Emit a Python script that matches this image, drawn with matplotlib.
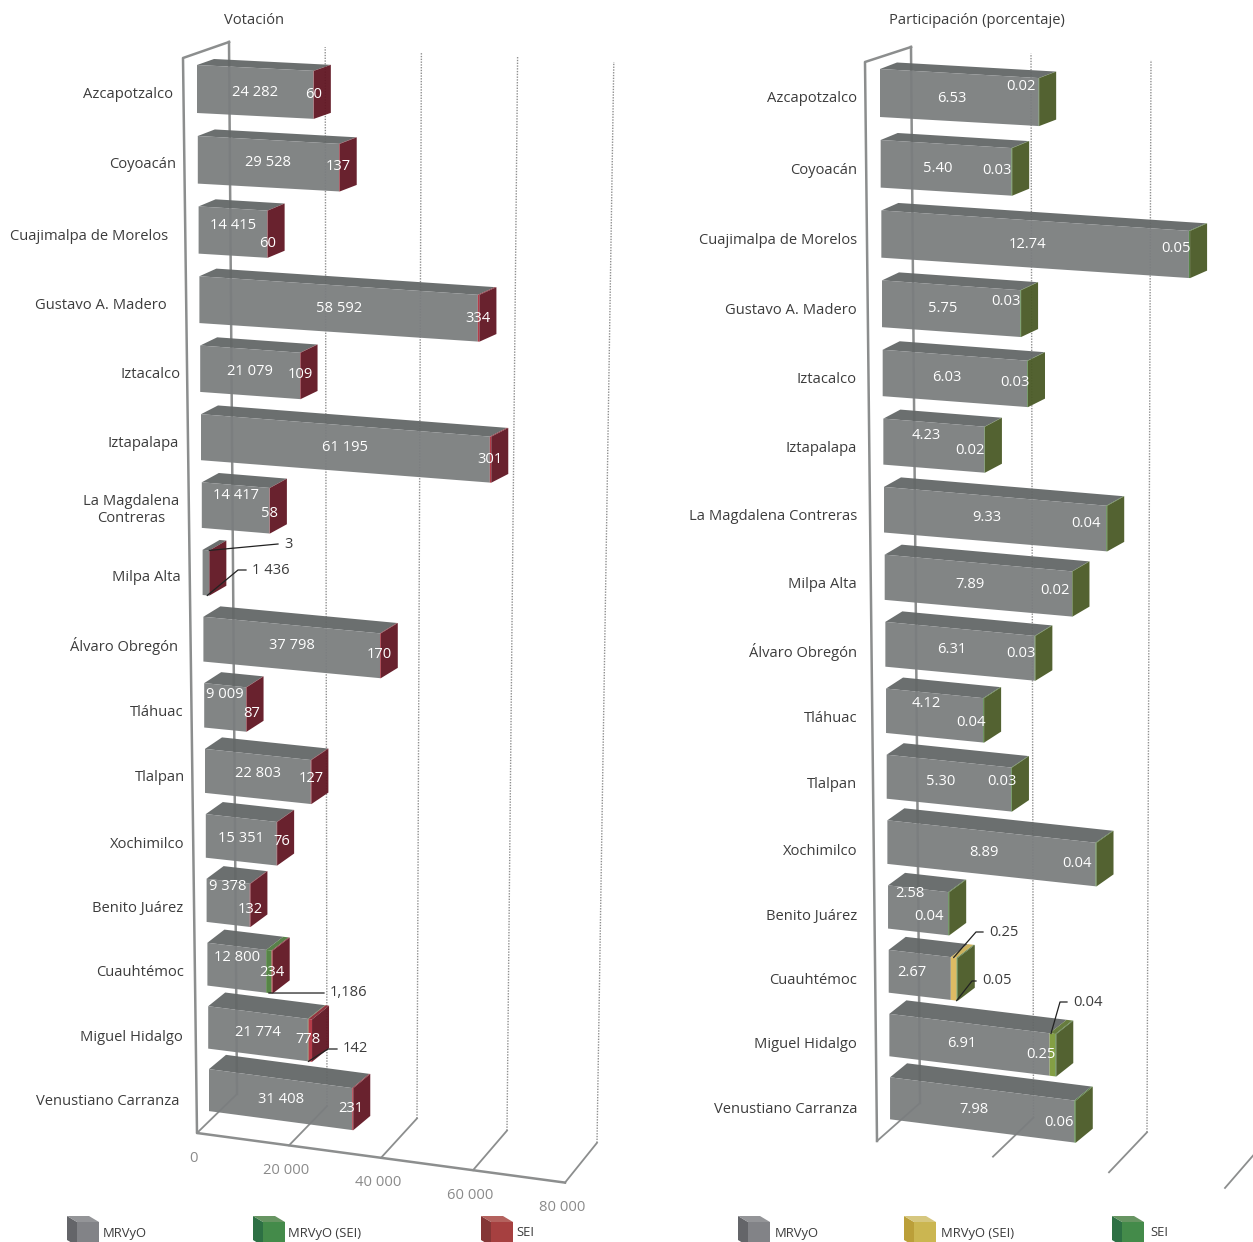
# coding: utf-8
# 3D-look stacked bars by alcaldia: votes on the left, share on the right
import matplotlib
matplotlib.use('Agg')
import matplotlib.pyplot as plt
from matplotlib.patches import Polygon

plt.rcParams['font.family'] = ['Open Sans', 'DejaVu Sans']

categories = ['Azcapotzalco', 'Coyoacán', 'Cuajimalpa de Morelos', 'Gustavo A. Madero',
              'Iztacalco', 'Iztapalapa', 'La Magdalena\nContreras', 'Milpa Alta',
              'Álvaro Obregón', 'Tláhuac', 'Tlalpan', 'Xochimilco', 'Benito Juárez',
              'Cuauhtémoc', 'Miguel Hidalgo', 'Venustiano Carranza']

votes_mrvyo = [24282, 29528, 14415, 58592, 21079, 61195, 14417, 1436,
               37798, 9009, 22803, 15351, 9378, 12800, 21774, 31408]
votes_mrvyo_sei = [0, 0, 0, 0, 0, 0, 0, 0, 0, 0, 0, 0, 0, 1186, 142, 0]
votes_sei = [60, 137, 60, 334, 109, 301, 58, 3, 170, 87, 127, 76, 132, 234, 778, 231]

pct_mrvyo = [6.53, 5.40, 12.74, 5.75, 6.03, 4.23, 9.33, 7.89,
             6.31, 4.12, 5.30, 8.89, 2.58, 2.67, 6.91, 7.98]
pct_mrvyo_sei = [0, 0, 0, 0, 0, 0, 0, 0, 0, 0, 0, 0, 0, 0.25, 0.25, 0]
pct_sei = [0.02, 0.03, 0.05, 0.03, 0.03, 0.02, 0.04, 0.02,
           0.03, 0.04, 0.03, 0.04, 0.04, 0.05, 0.04, 0.06]

votes_ticks = [0, 20000, 40000, 60000, 80000]
votes_tick_labels = ['0', '20 000', '40 000', '60 000', '80 000']
pct_ticks = [0, 5, 10, 15]

# layout only from here on: pixels of the 1253x1242 canvas
W, H = 1253, 1242
left_label_right = [173, 176, 168, 167, 180, 179, 164, 181, 178, 184, 185, 184, 183, 184, 183, 180]
left_label_dy = [29, 29, 30, 29, 29, 29, 29, 28, 29, 29, 29, 30, 30, 30, 31, 32]
left_main_dy = [27, 27, 19, 32, 26, 33, 13, 0, 29, 11, 25, 24, 8, 15, 26, 30]
left_side_dy = [30, 31, 37, 42, 29, 45, 31, 0, 38, 30, 30, 27, 31, 30, 33, 39]
left_side_dx = [0, -1, 0, 0, 0, 0, 0, 0, -1, 6, 0, 5, 0, 0, 0, -1]
right_label_dy = [30, 30, 30, 30, 30, 30, 30, 30, 30, 30, 30, 31, 31, 31, 31, 32]
right_main_dy = [29, 28, 34, 28, 28, 17, 31, 30, 28, 15, 27, 32, 8, 23, 30, 32]
right_side_dy = [17, 31, 38, 21, 33, 32, 37, 36, 32, 34, 27, 43, 31, 0, 41, 45]
right_side_dx = [-18, -15, -13, -14, -12, -15, -20, -17, -14, -12, -9, -19, -19, 0, -9, -15]

GRAY = ('#7b7e7f', '#636767')
RED = ('#b0313f', '#8b2a35', '#611623')
GREEN = ('#4d7f3c', '#4f7a3f', '#611623')
GOLD = ('#dcb85c', '#c9ad55', '#4a5a26')
OLIVE = ('#7d9a3a', '#5f7533', '#4a5a26')
TEXT = '#3c3c3c'
LINE = '#8c8e8e'

fig = plt.figure(figsize=(W / 100, H / 100), dpi=100)
ax = fig.add_axes([0, 0, 1, 1])
ax.set_xlim(0, W)
ax.set_ylim(H, 0)
ax.axis('off')


class Panel:
    def __init__(self, x0, x_step, scale0, scale_step, top0, a, b, slope0, slope_step, dy0, dy_step):
        self.x0, self.x_step = x0, x_step
        self.scale0, self.scale_step = scale0, scale_step
        self.top0, self.a, self.b = top0, a, b
        self.slope0, self.slope_step = slope0, slope_step
        self.dy0, self.dy_step = dy0, dy_step

    def left(self, i):
        return self.x0 + self.x_step * i

    def top(self, i):
        return self.top0 + self.a * i + self.b * i * i

    def x(self, i, v):
        return self.left(i) + v * (self.scale0 + self.scale_step * i)

    def y(self, i, v, frac=0.0):
        # frac 0 = top edge of the front face, 1 = bottom edge
        run = self.x(i, v) - self.left(i)
        return self.top(i) + (self.slope0 + self.slope_step * i) * run + frac * (48 - 0.4 * i)

    def depth(self, i):
        return 17, -(self.dy0 + self.dy_step * i)


left = Panel(197, 0.8, 4.80e-3, -0.016e-3, 65, 71.29, -0.29, 0.05, 0.0055, 6, 0.55)
right = Panel(880, 0.67, 24.3, -0.08, 69, 71.27, -0.27, 0.057, 0.0046, 6.5, 0.5)


def poly(pts, color, z):
    ax.add_patch(Polygon(pts, closed=True, facecolor=color, edgecolor='none', alpha=0.95, zorder=z))


def draw_row(p, i, segs):
    # segs: list of (value, style), piled from the axis outwards
    dx, dy = p.depth(i)
    z = 3 + i
    start = 0
    for value, style in segs:
        end = start + value
        xa, xb = p.x(i, start), p.x(i, end)
        ya, yb = p.y(i, start), p.y(i, end)
        ha, hb = p.y(i, start, 1), p.y(i, end, 1)
        poly([(xa, ya), (xa + dx, ya + dy), (xb + dx, yb + dy), (xb, yb)], style[1], z)
        poly([(xa, ya), (xb, yb), (xb, hb), (xa, ha)], style[0], z)
        start = end
    side = segs[-1][1][2]
    xb, yb, hb = p.x(i, start), p.y(i, start), p.y(i, start, 1)
    poly([(xb, yb), (xb + dx, yb + dy), (xb + dx, hb + dy), (xb, hb)], side, z)


def callout(p, i, v, frac, elbow, end, text):
    pts = [(p.x(i, v), p.y(i, v, frac))]
    if elbow:
        pts.append(elbow)
    pts.append(end)
    ax.plot(*zip(*pts), color='#222222', lw=0.9, zorder=30)
    ax.text(end[0] + 6, end[1], text, color=TEXT, fontsize=10.6, va='center', ha='left', zorder=31)


def cube(x, y, front, side, top):
    poly([(x, y), (x + 10, y + 6), (x + 10, y + 30), (x, y + 24)], side, 2)
    poly([(x + 10, y + 6), (x + 32, y + 6), (x + 32, y + 30), (x + 10, y + 30)], front, 2)
    poly([(x, y), (x + 22, y), (x + 32, y + 6), (x + 10, y + 6)], top, 2)


# left panel frame and grid
for k, v in enumerate(votes_ticks):
    fx, fy = 197 + 4.6e-3 * v, 1133 + 0.62e-3 * v
    bx, by = 237 + 4.5e-3 * v, 1094 + 0.61e-3 * v
    tx, ty = 229 + 4.81e-3 * v, 42 + 0.25e-3 * v
    ax.plot([fx, bx], [fy, by], color=LINE, lw=1.3, zorder=1)
    if v == 0:
        ax.plot([bx, tx], [by, ty], color=LINE, lw=1.8, zorder=1)
    else:
        ax.plot([bx, tx], [by, ty], color='#8f8f8f', lw=1.0, ls=(0, (1, 1)), zorder=1)
    ax.text(fx - 3, fy + 25, votes_tick_labels[k], color='#8a8a8a', fontsize=10.6, ha='center', va='center')
ax.plot([229, 183, 197, 197 + 4.6e-3 * votes_ticks[-1]], [42, 58, 1133, 1133 + 0.62e-3 * votes_ticks[-1]],
        color=LINE, lw=1.8, zorder=1)

# right panel frame and grid
for v in pct_ticks:
    fx, fy = 877 + 23.2 * v, 1141 + 3.13 * v
    bx, by = 920 + 22.7 * v, 1103 + 2.93 * v
    tx, ty = 911 + 24.0 * v, 47 + 1.3 * v
    ax.plot([fx, bx], [fy, by], color=LINE, lw=1.3, zorder=1)
    if v == 0:
        ax.plot([bx, tx], [by, ty], color=LINE, lw=1.8, zorder=1)
    else:
        ax.plot([bx, tx], [by, ty], color='#8f8f8f', lw=1.0, ls=(0, (1, 1)), zorder=1)
ax.plot([911, 865, 877], [47, 62, 1141], color=LINE, lw=1.8, zorder=1)

# bars
for i in range(len(categories)):
    draw_row(left, i, [(votes_mrvyo[i], GRAY), (votes_mrvyo_sei[i], GREEN), (votes_sei[i], RED)])
    gold = OLIVE if i == 14 else GOLD
    segs = [(pct_mrvyo[i], GRAY), (pct_mrvyo_sei[i], gold), (pct_sei[i], (GREEN[0], GREEN[1], '#4a5a26'))]
    draw_row(right, i, segs)

# category labels and values
for i, name in enumerate(categories):
    ly = left.top(i) + left_label_dy[i]
    if '\n' in name:
        ax.text(131, ly - 1, name, color=TEXT, fontsize=10.6, ha='center', va='center', linespacing=1.15)
    else:
        ax.text(left_label_right[i], ly, name, color=TEXT, fontsize=10.6, ha='right', va='center')
    ry = right.top(i) + right_label_dy[i]
    ax.text(857, ry, name.replace('\n', ' '), color=TEXT, fontsize=10.6, ha='right', va='center')

    if i != 7:
        tx = left.x(i, votes_mrvyo[i] / 2)
        ax.text(tx, left.top(i) + left_main_dy[i], f'{votes_mrvyo[i]:,}'.replace(',', ' '),
                color='white', fontsize=10.6, ha='center', va='center', zorder=40)
        sx = left.x(i, votes_mrvyo[i] + votes_mrvyo_sei[i]) + left_side_dx[i]
        ax.text(sx, left.top(i) + left_side_dy[i], f'{votes_sei[i]:,}'.replace(',', ' '),
                color='white', fontsize=10.6, ha='center', va='center', zorder=40)

    tx = right.x(i, pct_mrvyo[i] / 2) - 8
    ax.text(tx, right.top(i) + right_main_dy[i], f'{pct_mrvyo[i]:.2f}',
            color='white', fontsize=10.6, ha='center', va='center', zorder=40)
    if i != 13:
        inline = pct_mrvyo_sei[i] if i == 14 else pct_sei[i]
        sx = right.x(i, pct_mrvyo[i]) + right_side_dx[i]
        ax.text(sx, right.top(i) + right_side_dy[i], f'{inline:.2f}',
                color='white', fontsize=10.6, ha='center', va='center', zorder=40)

# values that sit outside the bars
callout(left, 7, votes_mrvyo[7] + votes_sei[7], 0, None, (278, 544), f'{votes_sei[7]}')
callout(left, 7, votes_mrvyo[7] * 0.7, 1, (238, 570), (246, 570), f'{votes_mrvyo[7]:,}'.replace(',', ' '))
callout(left, 13, votes_mrvyo[13] + votes_mrvyo_sei[13] / 2, 1, None, (324, 993), f'{votes_mrvyo_sei[13]:,}')
callout(left, 14, votes_mrvyo[14] + votes_mrvyo_sei[14], 1, (328, 1049), (337, 1049), f'{votes_mrvyo_sei[14]}')
callout(right, 13, pct_mrvyo[13] + pct_mrvyo_sei[13] / 2, 0, (976, 932), (983, 932), f'{pct_mrvyo_sei[13]:.2f}')
callout(right, 13, pct_mrvyo[13] + pct_mrvyo_sei[13], 1, (972, 981), (976, 981), f'{pct_sei[13]:.2f}')
callout(right, 14, pct_mrvyo[14] + pct_mrvyo_sei[14] / 4, 0, (1060, 1002), (1067, 1002), f'{pct_sei[14]:.2f}')

# titles
ax.text(254, 20, 'Votación', color=TEXT, fontsize=10.6, ha='center', va='center')
ax.text(977, 20, 'Participación (porcentaje)', color=TEXT, fontsize=10.6, ha='center', va='center')

# legends
GRAY_CUBE = ('#7b7c81', '#5c5d61', '#8e8f93')
GREEN_CUBE = ('#3a8540', '#21683a', '#5f8f5a')
RED_CUBE = ('#a13535', '#7d2b2b', '#b05a55')
GOLD_CUBE = ('#c9b248', '#b89a2e', '#d4c478')
legend_items = [(67, GRAY_CUBE, 'MRVyO', 103), (253, GREEN_CUBE, 'MRVyO (SEI)', 288), (481, RED_CUBE, 'SEI', 516),
                (738, GRAY_CUBE, 'MRVyO', 775), (904, GOLD_CUBE, 'MRVyO (SEI)', 941), (1112, GREEN_CUBE, 'SEI', 1150)]
for x, c, label, tx in legend_items:
    cube(x, 1216, c[0], c[1], c[2])
    ax.text(tx, 1233, label, color=TEXT, fontsize=9.4, ha='left', va='center')

fig.savefig('out.png', dpi=100)
